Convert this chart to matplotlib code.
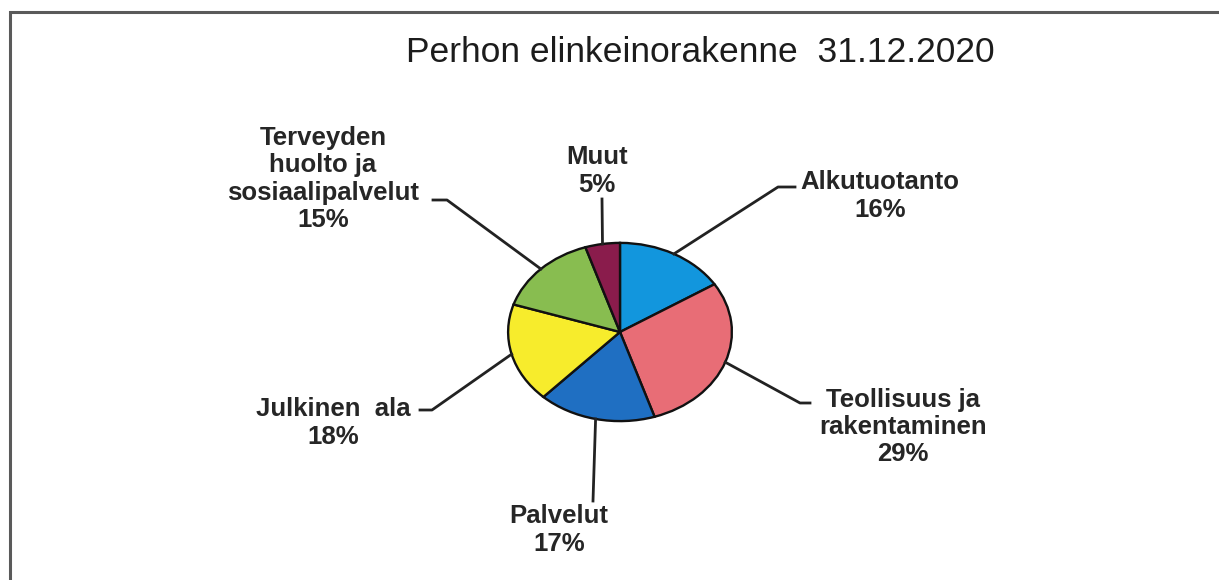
import numpy as np
import matplotlib
matplotlib.use("Agg")
import matplotlib.pyplot as plt

title = "Perhon elinkeinorakenne  31.12.2020"
sectors = ["Alkutuotanto", "Teollisuus ja\nrakentaminen", "Palvelut",
           "Julkinen  ala", "Terveyden\nhuolto ja\nsosiaalipalvelut", "Muut"]
shares = [16, 29, 17, 18, 15, 5]
colors = ["#1296dd", "#e86d76", "#1f6fc2", "#f7ec2c", "#88bd50", "#8a1c4c"]

# label layout in figure pixels (top-left origin): text centre, elbow, line end
label_pos = [(880, 196), (903, 427), (559, 530), (333, 423), (323, 179), (597, 171)]
elbows = [(778, 187), (800, 403), (593, 501), (432, 410), (447, 200), (602, 199)]
ends = [(795, 187), (810, 403), (593, 501), (420, 410), (433, 200), (602, 199)]

W, H = 1219, 580
fig = plt.figure(figsize=(W / 100, H / 100), dpi=100)
fig.patch.set_facecolor("white")

# pie in its own axes with free aspect -> elliptical like the original
cx, cy, rx, ry = 620, 332, 113, 90
ax_pie = fig.add_axes([(cx - rx) / W, 1 - (cy + ry) / H, 2 * rx / W, 2 * ry / H])
wedges, _ = ax_pie.pie(shares, colors=colors, startangle=90, counterclock=False,
                       radius=1, wedgeprops=dict(edgecolor="#111111", linewidth=1.7))
ax_pie.set_aspect("auto")
ax_pie.set_xlim(-1.01, 1.01)
ax_pie.set_ylim(-1.01, 1.01)
ax_pie.axis("off")

ov = fig.add_axes([0, 0, 1, 1], zorder=5)
ov.set_xlim(0, W)
ov.set_ylim(H, 0)
ov.axis("off")
ov.patch.set_alpha(0)

# scanned frame (left and top edges)
ov.plot([10, 10, W], [H, 12, 12], color="#5a5a5a", lw=2.2, solid_joinstyle="miter")

ov.text(700, 52, title, ha="center", va="center", fontsize=25.5,
        family="Liberation Sans", color="#1c1c1c")

for w, name, val, tp, el, en in zip(wedges, sectors, shares, label_pos, elbows, ends):
    mid = np.deg2rad((w.theta1 + w.theta2) / 2)
    disp = ax_pie.transData.transform((np.cos(mid), np.sin(mid)))
    ax_x, ax_y = ov.transData.inverted().transform(disp)
    ov.plot([ax_x, el[0], en[0]], [ax_y, el[1], en[1]], color="#222222", lw=2)
    ov.text(tp[0], tp[1], f"{name}\n{val}%", ha="center", va="center",
            fontsize=18.5, fontweight="bold", family="Liberation Sans",
            color="#262626", linespacing=1.18, multialignment="center")

fig.savefig("out.png", dpi=100)
